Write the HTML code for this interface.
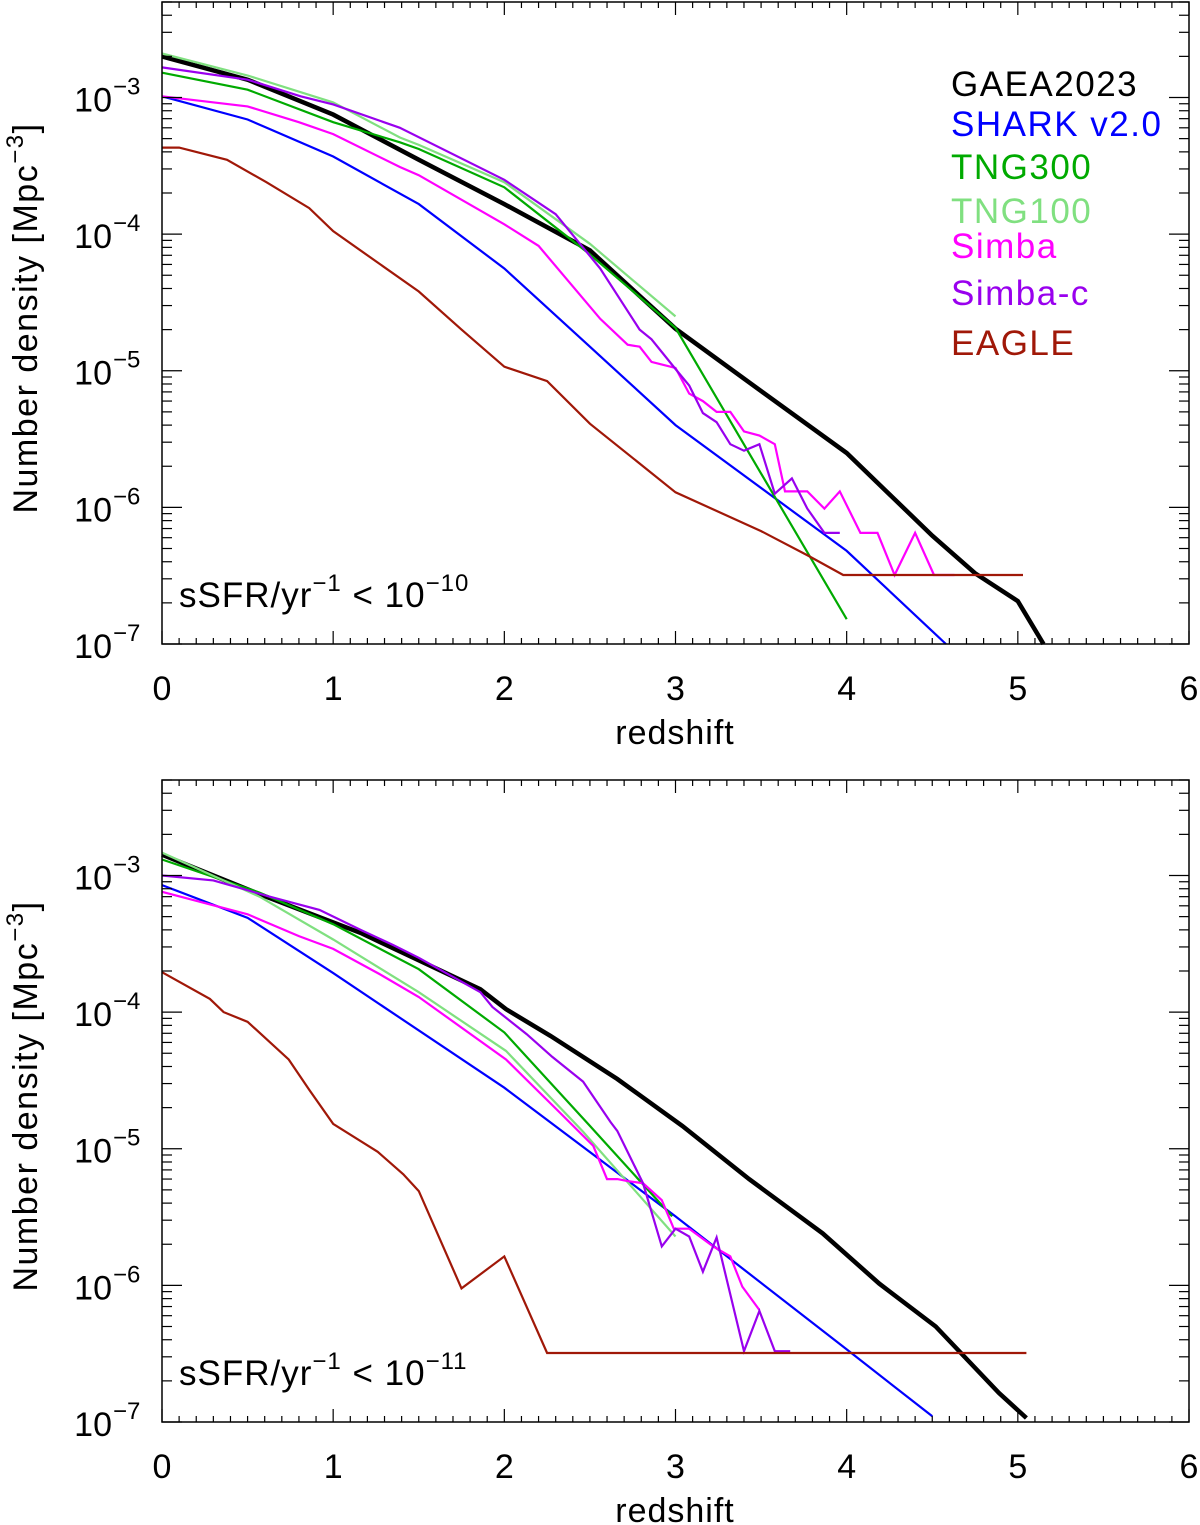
<!DOCTYPE html>
<html><head><meta charset="utf-8">
<style>
html,body{margin:0;padding:0;background:#fff;}
svg{display:block;font-family:"Liberation Sans","DejaVu Sans",sans-serif;}
</style></head>
<body>
<svg id="chart" width="1200" height="1525" viewBox="0 0 1200 1525" xmlns="http://www.w3.org/2000/svg"></svg>
<script>
// ---------- data (redshift, number density Mpc^-3) ----------
const xTicks = [0,1,2,3,4,5,6];
const yTickExps = [-3,-4,-5,-6,-7];
const seriesNames = ["GAEA2023","SHARK v2.0","TNG300","TNG100","Simba","Simba-c","EAGLE"];
const seriesColors = ["#000000","#0000ff","#00aa00","#80e080","#ff00ff","#9900ee","#a01808"];

// Top panel: sSFR < 1e-10
const topGaeaZ = [0,0.5,1,1.5,2,2.5,3,3.5,4,4.5,4.75,5,5.15];
const topGaeaV = [2.0e-3,1.35e-3,7.5e-4,3.5e-4,1.66e-4,7.6e-5,2.03e-5,7.1e-6,2.5e-6,6.2e-7,3.3e-7,2.06e-7,1.0e-7];
const topSharkZ = [0,0.5,1,1.5,2,2.5,3,4,4.58];
const topSharkV = [1.02e-3,6.9e-4,3.7e-4,1.66e-4,5.6e-5,1.5e-5,4.0e-6,4.8e-7,1.0e-7];
const topTng300Z = [0,0.5,1,1.39,1.5,2,2.5,3,4];
const topTng300V = [1.52e-3,1.14e-3,6.6e-4,4.7e-4,4.2e-4,2.2e-4,7.1e-5,2.06e-5,1.52e-7];
const topTng100Z = [0,0.5,1,1.39,1.5,2,2.5,3];
const topTng100V = [2.1e-3,1.45e-3,9.2e-4,5.1e-4,4.5e-4,2.4e-4,8.5e-5,2.5e-5];
const topSimbaZ = [0,0.5,0.8,1.0,1.39,1.5,2.0,2.2,2.56,2.72,2.79,2.86,3.0,3.08,3.16,3.24,3.32,3.4,3.49,3.58,3.64,3.77,3.87,3.96,4.08,4.18,4.28,4.4,4.51,4.63];
const topSimbaV = [1.02e-3,8.6e-4,6.6e-4,5.4e-4,3.1e-4,2.7e-4,1.18e-4,8.2e-5,2.4e-5,1.55e-5,1.5e-5,1.16e-5,1.05e-5,6.8e-6,6.0e-6,5.0e-6,5.0e-6,3.6e-6,3.36e-6,2.9e-6,1.31e-6,1.31e-6,9.8e-7,1.31e-6,6.5e-7,6.5e-7,3.2e-7,6.5e-7,3.2e-7,3.2e-7];
const topSimbacZ = [0,0.5,0.81,1.0,1.39,2.0,2.3,2.56,2.79,2.86,3.0,3.08,3.16,3.24,3.32,3.4,3.49,3.58,3.68,3.77,3.87,3.96];
const topSimbacV = [1.66e-3,1.35e-3,1.02e-3,8.9e-4,6.0e-4,2.5e-4,1.4e-4,5.6e-5,2.0e-5,1.7e-5,1.03e-5,7.8e-6,4.9e-6,4.2e-6,2.9e-6,2.6e-6,2.9e-6,1.26e-6,1.63e-6,9.8e-7,6.5e-7,6.5e-7];
const topEagleZ = [0,0.1,0.38,0.61,0.86,1.0,1.5,1.75,2.0,2.25,2.5,3.0,3.5,3.78,3.98,5.03];
const topEagleV = [4.3e-4,4.3e-4,3.5e-4,2.4e-4,1.55e-4,1.05e-4,3.8e-5,2.0e-5,1.07e-5,8.4e-6,4.1e-6,1.29e-6,6.7e-7,4.4e-7,3.2e-7,3.2e-7];

// Bottom panel: sSFR < 1e-11
const botGaeaZ = [0,0.57,1.16,1.86,2.01,2.27,2.66,3.04,3.43,3.86,4.19,4.52,4.89,5.05];
const botGaeaV = [1.42e-3,7.3e-4,3.8e-4,1.47e-4,1.05e-4,6.7e-5,3.24e-5,1.47e-5,6.0e-6,2.4e-6,1.03e-6,5.0e-7,1.63e-7,1.07e-7];
const botSharkZ = [0,0.5,1,2,3,4,4.5];
const botSharkV = [8.5e-4,4.9e-4,1.93e-4,2.8e-5,3.2e-6,3.4e-7,1.1e-7];
const botTng300Z = [0,0.57,1,1.5,2,2.5,2.98];
const botTng300V = [1.31e-3,7.5e-4,4.4e-4,2.06e-4,7.1e-5,1.47e-5,3.2e-6];
const botTng100Z = [0,0.57,1,1.5,2.01,2.46,3.0];
const botTng100V = [1.47e-3,7.0e-4,3.4e-4,1.4e-4,5.2e-5,1.33e-5,2.28e-6];
const botSimbaZ = [0,0.5,0.8,1.0,1.27,1.5,2.01,2.32,2.52,2.6,2.66,2.72,2.81,2.92,2.99,3.08,3.22,3.32,3.39,3.49];
const botSimbaV = [7.6e-4,5.2e-4,3.6e-4,2.9e-4,1.9e-4,1.29e-4,4.5e-5,1.86e-5,1.05e-5,6.0e-6,6.0e-6,5.8e-6,5.6e-6,4.2e-6,2.6e-6,2.6e-6,1.93e-6,1.63e-6,9.8e-7,6.6e-7];
const botSimbacZ = [0,0.3,0.47,0.63,0.92,1.16,1.35,1.5,1.86,1.93,2.13,2.28,2.46,2.62,2.66,2.81,2.92,3.0,3.08,3.16,3.24,3.4,3.49,3.58,3.67];
const botSimbacV = [1.0e-3,9.2e-4,8.0e-4,7.0e-4,5.6e-4,4.0e-4,3.1e-4,2.5e-4,1.4e-4,1.09e-4,6.9e-5,4.7e-5,3.1e-5,1.57e-5,1.35e-5,5.6e-6,1.93e-6,2.6e-6,2.28e-6,1.26e-6,2.24e-6,3.3e-7,6.5e-7,3.3e-7,3.3e-7];
const botEagleZ = [0,0.28,0.36,0.5,0.74,0.86,1.0,1.26,1.41,1.5,1.75,2.0,2.25,5.05];
const botEagleV = [1.96e-4,1.25e-4,1.0e-4,8.5e-5,4.5e-5,2.7e-5,1.52e-5,9.5e-6,6.5e-6,4.9e-6,9.5e-7,1.63e-6,3.2e-7,3.2e-7];

const topSeries = [[topGaeaZ,topGaeaV],[topSharkZ,topSharkV],[topTng300Z,topTng300V],[topTng100Z,topTng100V],[topSimbaZ,topSimbaV],[topSimbacZ,topSimbacV],[topEagleZ,topEagleV]];
const botSeries = [[botGaeaZ,botGaeaV],[botSharkZ,botSharkV],[botTng300Z,botTng300V],[botTng100Z,botTng100V],[botSimbaZ,botSimbaV],[botSimbacZ,botSimbacV],[botEagleZ,botEagleV]];

// ---------- drawing ----------
const NS = "http://www.w3.org/2000/svg";
const svg = document.getElementById("chart");
const X0 = 162, X1 = 1189, XMIN = 0, XMAX = 6;
const YMAXLOG = Math.log10(5e-3), YMINLOG = -7;
function mk(tag, attrs, parent){ const e=document.createElementNS(NS,tag); for(const k in attrs) e.setAttribute(k,attrs[k]); (parent||svg).appendChild(e); return e; }

function panel(top, bottom, series, label, tag){
  const g = mk("g",{});
  
  
  const xs = z => X0 + (z-XMIN)/(XMAX-XMIN)*(X1-X0);
  const ys = v => top + (YMAXLOG-Math.log10(v))/(YMAXLOG-YMINLOG)*(bottom-top);
  series.forEach((s,i)=>{
    const pts = s[0].map((z,j)=>xs(z).toFixed(1)+","+ys(s[1][j]).toFixed(1)).join(" ");
    const p = mk("polyline",{points:pts,fill:"none",stroke:seriesColors[i],"stroke-width":i===0?4.5:2.2,"stroke-linejoin":"miter"},g);
    
    
  });
  const fr = mk("rect",{x:X0,y:top,width:X1-X0,height:bottom-top,fill:"none",stroke:"#000","stroke-width":1.5},g);
  
  
  for(let k=0;k<=60;k++){
    const z=k/10, x=xs(z), L=(k%10===0)?13:6;
    mk("line",{x1:x,x2:x,y1:bottom,y2:bottom-L,stroke:"#000","stroke-width":1.2},g);
    mk("line",{x1:x,x2:x,y1:top,y2:top+L,stroke:"#000","stroke-width":1.2},g);
  }
  xTicks.forEach(t=>{
    const tx = mk("text",{x:xs(t),y:bottom+56,"font-size":34,"text-anchor":"middle"},g);
    tx.textContent=t;
    
    
  });
  for(let e=-7;e<=-3;e++){
    for(let m=1;m<=9;m++){
      const v=m*Math.pow(10,e);
      if(Math.log10(v)>YMAXLOG+1e-9) continue;
      const y=ys(v), L=(m===1)?20:10;
      mk("line",{x1:X0,x2:X0+L,y1:y,y2:y,stroke:"#000","stroke-width":1.2},g);
      mk("line",{x1:X1,x2:X1-L,y1:y,y2:y,stroke:"#000","stroke-width":1.2},g);
    }
  }
  yTickExps.forEach(e=>{
    const y=ys(Math.pow(10,e));
    const t = mk("text",{x:112,y:y+14,"font-size":34,"text-anchor":"end"},g);
    t.textContent="10";
    
    
    const s = mk("text",{x:113,y:y-3,"font-size":24,"text-anchor":"start"},g);
    s.textContent="\u2212"+(-e);
  });
  const xt = mk("text",{x:675,y:bottom+100,"font-size":34,"text-anchor":"middle","letter-spacing":"1"},g);
  xt.textContent="redshift";
  
  
  const cy=(top+bottom)/2-5;
  const yt = mk("text",{x:0,y:0,"font-size":34,"text-anchor":"middle","letter-spacing":"1.5",transform:`translate(37,${cy}) rotate(-90)`},g);
  yt.innerHTML='Number density [Mpc<tspan font-size="24" dy="-14">\u22123</tspan><tspan dy="14">]</tspan>';
  
  
  const an = mk("text",{x:179,y:bottom-37,"font-size":35,"letter-spacing":"1"},g);
  an.innerHTML='sSFR/yr<tspan font-size="24" dy="-16">\u22121</tspan><tspan dy="16"> &lt; 10</tspan><tspan font-size="24" dy="-16">\u2212'+label+'</tspan>';
  
  
}

panel(2, 644, topSeries, "10", "top");
panel(780, 1422, botSeries, "11", "bottom");

const legendY = [96,136,179,223,258,305,355];
const lg = mk("g",{});


seriesNames.forEach((n,i)=>{
  const t = mk("text",{x:951,y:legendY[i],"font-size":35,fill:seriesColors[i],"letter-spacing":"1.5"},lg);
  t.textContent = n;
  
  
});
</script>
</body></html>
